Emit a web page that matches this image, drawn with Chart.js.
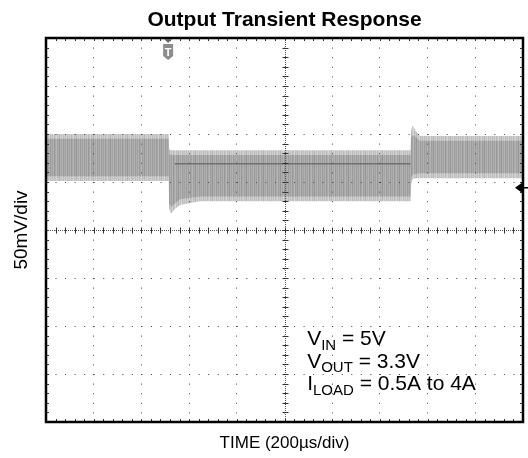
<!DOCTYPE html>
<html><head><meta charset="utf-8">
<script src="https://cdn.jsdelivr.net/npm/chart.js@4/dist/chart.umd.min.js"></script>
<style>html,body{margin:0;padding:0;background:#fff;overflow:hidden}</style>
</head><body>
<canvas id="c" width="528" height="458" style="width:528px;height:458px;display:block"></canvas>
<script>
// ---- axis definitions (time in µs, voltage in mV relative to screen centre) ----
const timeMin = 0, timeMax = 2000, timeStep = 200;     // 200 µs/div
const voltMin = -200, voltMax = 200, voltStep = 50;    // 50 mV/div

// ---- outer (peak) envelope of the ripple band ----
const outerTime = [0, 515, 516, 524, 540, 562, 646, 1000, 1529, 1531, 1537, 1550, 1568, 2000];
const outerHigh = [100, 100, 84, 83, 83, 83, 83, 83, 83, 104, 109, 103, 98, 98];
const outerLow  = [51, 51, 22, 17, 22, 26, 30, 30, 30, 48, 53, 54, 54, 54];

// ---- inner (dense) envelope of the ripple band ----
const innerTime = [0, 515, 516, 524, 562, 646, 1529, 1531, 1540, 1568, 2000];
const innerHigh = [95, 95, 79, 78, 78, 78, 78, 97, 99, 93, 93];
const innerLow  = [56, 56, 28, 24, 32, 35, 35, 55, 58, 59, 59];

// ---- darker average trace during the high-load interval ----
const meanTime = [540, 1528];
const meanVolt = [69, 69];

// ---- markers ----
const triggerTime = 512;   // trigger "T" marker position
const refLevel = 44;       // channel level arrow on right edge (mV)

const annotLines = [
  ["V", "IN", " = 5V"],
  ["V", "OUT", " = 3.3V"],
  ["I", "LOAD", " = 0.5A to 4A"]
];

const FONT = '"Liberation Sans", Arial, Helvetica, sans-serif';

function pts(t, v) { return t.map((x, i) => ({x: x, y: v[i]})); }

function stripePattern(cols) {
  const c = document.createElement('canvas');
  c.width = cols.length; c.height = 1;
  const g = c.getContext('2d');
  cols.forEach((v, i) => { g.fillStyle = `rgb(${v},${v},${v})`; g.fillRect(i, 0, 1, 1); });
  return g.createPattern(c, 'repeat');
}
const outerFill = stripePattern([204,192,210,186,200,214,190,202,182,206,196,212,188,203,194,208,190]);
const innerFill = stripePattern([172,160,178,152,168,182,158,170,150,175,164,180,156,171,162,176,158]);

const scopePlugin = {
  id: 'scope',
  afterDraw(chart) {
    const {ctx, chartArea: a, scales: {x, y}} = chart;
    ctx.save();
    const cx = Math.round(x.getPixelForValue((timeMin + timeMax) / 2)) + 0.5;
    const cy = Math.round(y.getPixelForValue(0)) + 0.5;
    // centre cross: dense dotted lines
    ctx.strokeStyle = '#555'; ctx.lineWidth = 1; ctx.setLineDash([1, 1]);
    ctx.beginPath();
    ctx.moveTo(a.left, cy); ctx.lineTo(a.right, cy);
    ctx.moveTo(cx, a.top); ctx.lineTo(cx, a.bottom);
    ctx.stroke();
    ctx.setLineDash([]);
    // minor ticks on centre cross and frame
    ctx.strokeStyle = '#333';
    ctx.beginPath();
    const nT = (timeMax - timeMin) / timeStep * 5;
    for (let i = 0; i <= nT; i++) {
      const px = Math.round(x.getPixelForValue(timeMin + i * timeStep / 5)) + 0.5;
      ctx.moveTo(px, cy - 3); ctx.lineTo(px, cy + 3);
      ctx.moveTo(px, a.top); ctx.lineTo(px, a.top + 3);
      ctx.moveTo(px, a.bottom - 3); ctx.lineTo(px, a.bottom);
    }
    const nV = (voltMax - voltMin) / voltStep * 5;
    for (let i = 0; i <= nV; i++) {
      const py = Math.round(y.getPixelForValue(voltMin + i * voltStep / 5)) + 0.5;
      ctx.moveTo(cx - 3, py); ctx.lineTo(cx + 3, py);
      ctx.moveTo(a.left, py); ctx.lineTo(a.left + 3, py);
      ctx.moveTo(a.right - 3, py); ctx.lineTo(a.right, py);
    }
    ctx.stroke();
    // frame
    ctx.strokeStyle = '#000'; ctx.lineWidth = 2.5;
    ctx.strokeRect(a.left, a.top, a.right - a.left, a.bottom - a.top);
    // trigger marker
    const tx = x.getPixelForValue(triggerTime);
    ctx.fillStyle = '#666';
    ctx.beginPath(); ctx.moveTo(tx - 4, a.top + 1); ctx.lineTo(tx + 4, a.top + 1); ctx.lineTo(tx, a.top + 5); ctx.closePath(); ctx.fill();
    ctx.fillStyle = '#8c8c8c';
    ctx.beginPath();
    ctx.moveTo(tx - 5, a.top + 6); ctx.lineTo(tx + 5, a.top + 6); ctx.lineTo(tx + 5, a.top + 18);
    ctx.lineTo(tx, a.top + 22); ctx.lineTo(tx - 5, a.top + 18); ctx.closePath(); ctx.fill();
    ctx.fillStyle = '#fff'; ctx.font = 'bold 11px ' + FONT; ctx.textAlign = 'center'; ctx.textBaseline = 'alphabetic';
    ctx.fillText('T', tx, a.top + 18);
    // level arrow at right edge
    const ly = y.getPixelForValue(refLevel);
    ctx.fillStyle = '#000';
    ctx.beginPath(); ctx.moveTo(a.right - 8, ly); ctx.lineTo(a.right - 1, ly - 5); ctx.lineTo(a.right - 1, ly + 5); ctx.closePath(); ctx.fill();
    ctx.lineWidth = 1.5; ctx.beginPath(); ctx.moveTo(a.right - 2, ly); ctx.lineTo(chart.width, ly); ctx.stroke();
    // annotation
    ctx.textAlign = 'left'; ctx.fillStyle = '#000';
    const ax = x.getPixelForValue(1095);
    const baseY = [y.getPixelForValue(-120), y.getPixelForValue(-143.5), y.getPixelForValue(-167)];
    annotLines.forEach((ln, i) => {
      let px = ax;
      ctx.font = '21px ' + FONT; ctx.fillText(ln[0], px, baseY[i]); px += ctx.measureText(ln[0]).width;
      ctx.font = '15px ' + FONT; ctx.fillText(ln[1], px, baseY[i] + 4.5); px += ctx.measureText(ln[1]).width;
      ctx.font = '21px ' + FONT; ctx.fillText(ln[2], px, baseY[i]);
    });
    ctx.restore();
  }
};

new Chart(document.getElementById('c'), {
  type: 'line',
  data: {
    datasets: [
      {data: pts(meanTime, meanVolt), borderColor: '#707070', borderWidth: 1.5, pointRadius: 0, fill: false},
      {data: pts(innerTime, innerHigh), borderColor: 'rgba(0,0,0,0)', borderWidth: 0, pointRadius: 0, fill: false},
      {data: pts(innerTime, innerLow), borderColor: 'rgba(0,0,0,0)', borderWidth: 0, pointRadius: 0, fill: '-1', backgroundColor: innerFill},
      {data: pts(outerTime, outerHigh), borderColor: 'rgba(0,0,0,0)', borderWidth: 0, pointRadius: 0, fill: false},
      {data: pts(outerTime, outerLow), borderColor: 'rgba(0,0,0,0)', borderWidth: 0, pointRadius: 0, fill: '-1', backgroundColor: outerFill}
    ]
  },
  options: {
    responsive: false, animation: false, devicePixelRatio: 1,
    layout: {padding: {left: 0, right: 5, top: 0, bottom: 0}},
    elements: {line: {tension: 0}},
    plugins: {
      legend: {display: false}, tooltip: {enabled: false},
      title: {display: true, text: 'Output Transient Response', fullSize: false, color: '#000',
              font: {family: FONT, size: 21, weight: 'bold'}, padding: {top: 8, bottom: 4.8}}
    },
    scales: {
      x: {type: 'linear', min: timeMin, max: timeMax,
          ticks: {display: false, stepSize: timeStep},
          grid: {color: '#444', lineWidth: 1, drawTicks: false, z: 1},
          border: {display: false, dash: [1, 8.6]},
          title: {display: true, text: 'TIME (200µs/div)', color: '#000', font: {family: FONT, size: 17}, padding: {top: 0, bottom: 4}},
          afterFit(s) { s.height = 36; }},
      y: {type: 'linear', min: voltMin, max: voltMax,
          ticks: {display: false, stepSize: voltStep},
          grid: {color: '#444', lineWidth: 1, drawTicks: false, z: 1},
          border: {display: false, dash: [1, 8.54]},
          title: {display: true, text: '50mV/div', color: '#000', font: {family: FONT, size: 19}, padding: {top: 10, bottom: 0}},
          afterFit(s) { s.width = 46; }}
    }
  },
  plugins: [scopePlugin]
});
</script>
</body></html>
